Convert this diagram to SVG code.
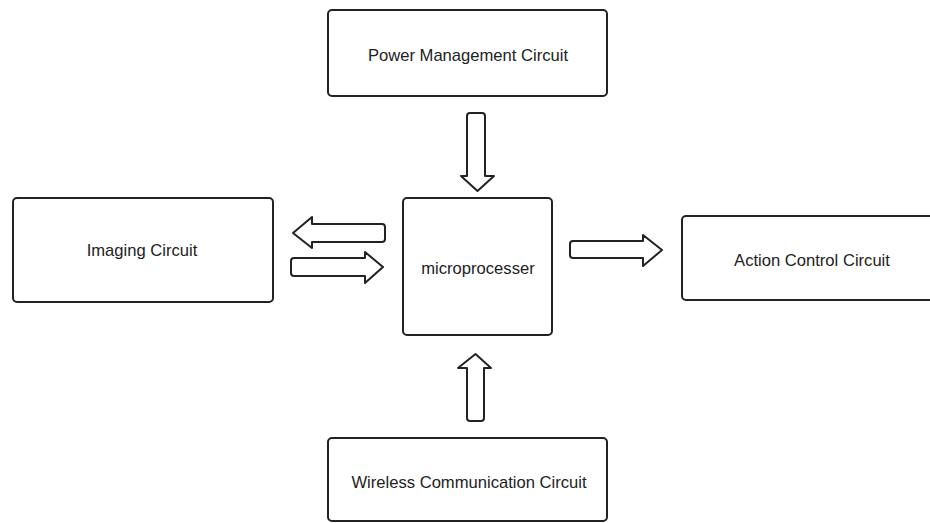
<svg xmlns="http://www.w3.org/2000/svg" width="930" height="523" viewBox="0 0 930 523">
<style>
.box{fill:#fff;stroke:#222;stroke-width:2}
.arr{fill:#fff;stroke:#222;stroke-width:2;stroke-linejoin:round}
text{font-family:"Liberation Sans",Arial,sans-serif;font-size:16.6px;fill:#222;text-anchor:middle}
</style>
<rect width="930" height="523" fill="#fff"/>
<g id="power"><rect class="box" x="328" y="10" width="279" height="86" rx="4"/><text x="468" y="61">Power Management Circuit</text></g>
<g id="imaging"><rect class="box" x="13" y="198" width="260" height="104" rx="4"/><text x="142" y="256">Imaging Circuit</text></g>
<g id="micro"><rect class="box" x="403" y="198" width="149" height="137" rx="4"/><text x="478" y="274">microprocesser</text></g>
<g id="action"><rect class="box" x="682" y="216" width="260" height="84" rx="4"/><text x="812" y="266">Action Control Circuit</text></g>
<g id="wireless"><rect class="box" x="328" y="438" width="279" height="83" rx="4"/><text x="469" y="488">Wireless Communication Circuit</text></g>
<g id="connectors">
<path class="arr" d="M470,113 H482 Q485,113 485,116 V176 H494 L477.5,191 L461,176 H467 V116 Q467,113 470,113 Z"/>
<path class="arr" d="M382,224 Q385,224 385,227 V239 Q385,242 382,242 H312 V248 L293,233 L312,217 V224 Z"/>
<path class="arr" d="M294,258 H365 V252 L383,267 L365,283 V276 H294 Q291,276 291,273 V261 Q291,258 294,258 Z"/>
<path class="arr" d="M573,241 H643 V235 L662,250 L643,266 V258 H573 Q570,258 570,255 V244 Q570,241 573,241 Z"/>
<path class="arr" d="M470,421 H481 Q484,421 484,418 V368 H491 L475.5,354 L458,368 H467 V418 Q467,421 470,421 Z"/>
</g>
</svg>
